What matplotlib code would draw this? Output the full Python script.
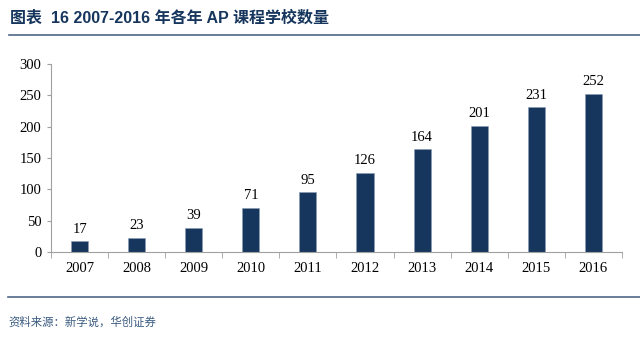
import matplotlib.pyplot as plt
import numpy as np

years = ["2007", "2008", "2009", "2010", "2011", "2012", "2013", "2014", "2015", "2016"]
schools = [17, 23, 39, 71, 95, 126, 164, 201, 231, 252]

title = "图表  16 2007-2016 年各年 AP 课程学校数量"
source = "资料来源：新学说，华创证券"

navy = "#17365D"
serif = ["Liberation Serif", "DejaVu Serif"]

fig = plt.figure(figsize=(6.4, 3.42), dpi=100)
ax = fig.add_axes([0.0797, 0.263, 0.892, 0.55])

x = np.arange(len(years))
bars = ax.bar(x, schools, width=0.3, color=navy, edgecolor="#8A9BB3", linewidth=0.4)
for xi, v in zip(x, schools):
    ax.text(xi, v + 9, str(v), ha="center", va="bottom", fontsize=10.5, family=serif)

ax.set_xlim(-0.5, len(years) - 0.5)
ax.set_ylim(0, 300)
ax.set_yticks(np.arange(0, 301, 50))
ax.set_yticklabels([str(t) for t in range(0, 301, 50)], family=serif, fontsize=10.5)
ax.set_xticks(x)
ax.set_xticklabels(years, family=serif, fontsize=10.5)
ax.set_xticks(np.arange(-0.5, len(years), 1), minor=True)
ax.tick_params(axis="x", which="major", length=0, pad=7)
ax.tick_params(axis="x", which="minor", length=4, color="#A0A0A0")
ax.tick_params(axis="y", length=3, color="#A0A0A0", pad=4)
for s in ["top", "right"]:
    ax.spines[s].set_visible(False)
ax.spines["left"].set_color("#A0A0A0")
ax.spines["bottom"].set_color("#A0A0A0")

fig.text(0.016, 0.947, title, fontsize=11.5, fontweight="bold", color=navy,
         family=["Liberation Sans", "Noto Sans CJK SC"], va="center")
fig.add_artist(plt.Line2D([0.014, 1.0], [0.897, 0.897], color="#4F6785", linewidth=1.2))
fig.add_artist(plt.Line2D([0.012, 1.0], [0.132, 0.132], color="#4F6785", linewidth=1.2))
fig.text(0.014, 0.058, source, fontsize=8.2, style="italic", color="#3A5A80",
         family=["Noto Sans CJK SC", "DejaVu Sans"], va="center")

fig.savefig("out.png", dpi=100)
